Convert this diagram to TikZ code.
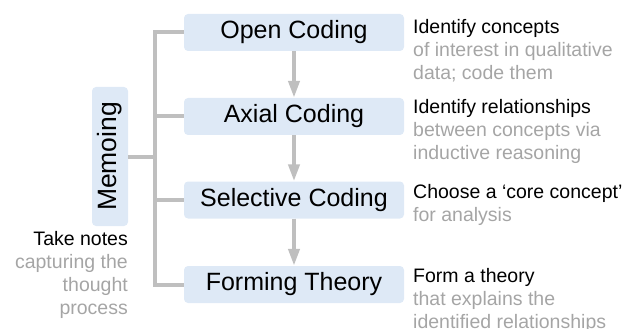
\documentclass[tikz,border=0pt]{standalone}
\usepackage{fontspec}
\setmainfont{Liberation Sans}
\usepackage{tikz}
\usetikzlibrary{arrows.meta, positioning, calc}
\definecolor{boxblue}{RGB}{222, 233, 246}
\definecolor{linegray}{RGB}{191, 191, 191}
\definecolor{notegray}{RGB}{165, 165, 165}
\tikzset{
    stage/.style={rectangle, rounded corners=4pt, minimum width=220pt, minimum height=37pt, inner sep=0pt, fill=boxblue, font=\fontsize{25}{28}\selectfont},
    memo/.style={rectangle, rounded corners=4pt, minimum width=139pt, minimum height=36pt, inner sep=0pt, fill=boxblue, rotate=90, font=\fontsize{26.5}{28}\selectfont},
    note/.style={inner sep=0pt, font=\fontsize{19.5}{23}\selectfont},
    flow/.style={line width=4pt, linegray, -{Triangle[length=17pt, width=11pt]}},
    branch/.style={line width=4pt, linegray, line join=miter}
}

\begin{document}
\begin{tikzpicture}[x=1pt, y=-1pt]
        \useasboundingbox (0,0) rectangle (630,329);

        % Coding stages
        \node[stage] (open) at (294, 32.5) {Open Coding};
        \node[stage] (axial) at (294, 116.5) {Axial Coding};
        \node[stage] (selective) at (294, 200) {Selective Coding};
        \node[stage] (theory) at (294, 284.5) {Forming Theory};

        % Memoing
        \node[memo] (memoing) at (110, 156.5) {Memoing};
        \node[note, align=right, anchor=north east] (memonote) at (128, 231) {Take notes\\\color{notegray}capturing the\\\color{notegray}thought\\\color{notegray}process};

        % Stage notes
        \node[note, align=left, anchor=north west] (opennote) at (413, 19.5) {Identify concepts\\\color{notegray}of interest in qualitative\\\color{notegray}data; code them};
        \node[note, align=left, anchor=north west] (axialnote) at (413, 99.5) {Identify relationships\\\color{notegray}between concepts via\\\color{notegray}inductive reasoning};
        \node[note, align=left, anchor=north west] (selectivenote) at (413, 184.5) {Choose a ‘core concept’\\\color{notegray}for analysis};
        \node[note, align=left, anchor=north west] (theorynote) at (413, 268.5) {Form a theory\\\color{notegray}that explains the\\\color{notegray}identified relationships};

        % Bus
        \coordinate (bustop) at (155, 32.5);
        \coordinate (busbottom) at (155, 284.5);
        \draw[branch] (open.west) -- (bustop) -- (busbottom) -- (theory.west);
        \draw[branch] (axial.west) -- (axial.west -| bustop);
        \draw[branch] (selective.west) -- (selective.west -| bustop);
        \draw[branch] (memoing.south) -- (memoing.south -| bustop);

        % Arrows
        \draw[flow] (open) -- (axial);
        \draw[flow] (axial) -- (selective);
        \draw[flow] (selective) -- (theory);
    \end{tikzpicture}
\end{document}
